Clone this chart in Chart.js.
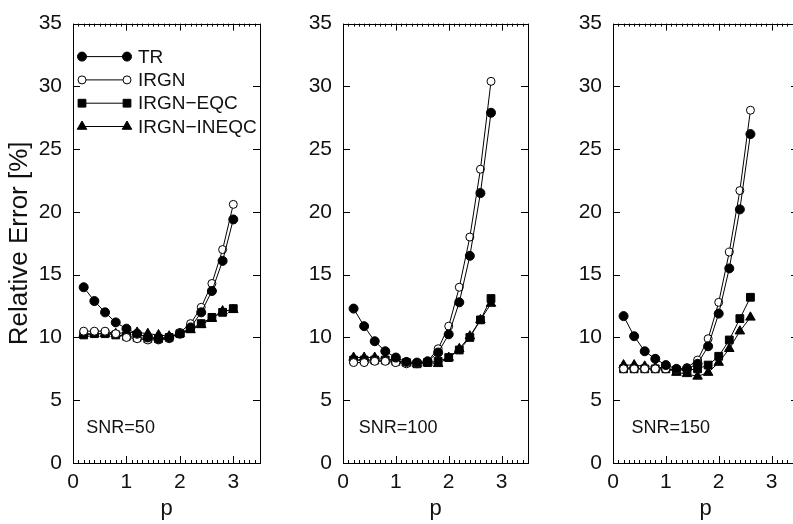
<!DOCTYPE html>
<html>
<head>
<meta charset="utf-8">
<script src="https://cdn.jsdelivr.net/npm/chart.js@4.4.1/dist/chart.umd.min.js"></script>
<style>
  body { margin: 0; width: 793px; height: 524px; overflow: hidden; position: relative; background: #fff; }
  canvas { position: absolute; top: 0; }
</style>
</head>
<body>
<canvas id="c1" width="270" height="524" style="left:0px"></canvas>
<canvas id="c2" width="270" height="524" style="left:270px"></canvas>
<canvas id="c3" width="270" height="524" style="left:540px"></canvas>
<script>
// eixos
const xTicks = [0, 1, 2, 3];
const yTicks = [0, 5, 10, 15, 20, 25, 30, 35];
const nomes = ['TR', 'IRGN', 'IRGN\u2212EQC', 'IRGN\u2212INEQC'];

// SNR=50
const p50 = [0.2, 0.4, 0.6, 0.8, 1.0, 1.2, 1.4, 1.6, 1.8, 2.0, 2.2, 2.4, 2.6, 2.8, 3.0];
const tr50 = [14.0, 12.9, 12.0, 11.2, 10.7, 10.3, 10.0, 9.9, 10.0, 10.3, 10.8, 12.0, 13.7, 16.1, 19.4];
const irgn50 = [10.5, 10.5, 10.5, 10.3, 10.0, 9.9, 9.8, 9.8, 9.9, 10.4, 11.1, 12.4, 14.3, 17.0, 20.6];
const eqc50 = [10.2, 10.3, 10.3, 10.2, 10.1, 10.0, 9.9, 9.9, 10.0, 10.3, 10.7, 11.1, 11.6, 12.0, 12.3];
const ineqc50 = [10.3, 10.3, 10.3, 10.3, 10.4, 10.4, 10.3, 10.2, 10.1, 10.3, 10.6, 11.0, 11.5, 12.1, 12.2];

// SNR=100
const p100 = [0.2, 0.4, 0.6, 0.8, 1.0, 1.2, 1.4, 1.6, 1.8, 2.0, 2.2, 2.4, 2.6, 2.8];
const tr100 = [12.3, 10.9, 9.7, 8.9, 8.4, 8.05, 8.0, 8.1, 8.8, 10.25, 12.8, 16.5, 21.5, 27.9];
const irgn100 = [8.0, 8.0, 8.1, 8.1, 8.0, 7.9, 7.9, 8.1, 9.1, 10.9, 14.0, 18.0, 23.4, 30.4];
const eqc100 = [8.2, 8.2, 8.2, 8.2, 8.1, 8.0, 7.9, 8.0, 8.1, 8.4, 9.0, 10.0, 11.4, 13.1];
const ineqc100 = [8.4, 8.4, 8.4, 8.3, 8.2, 8.0, 7.9, 8.0, 7.9, 8.4, 9.1, 10.1, 11.4, 12.7];

// SNR=150
const p150 = [0.2, 0.4, 0.6, 0.8, 1.0, 1.2, 1.4, 1.6, 1.8, 2.0, 2.2, 2.4, 2.6];
const tr150 = [11.7, 10.1, 8.9, 8.3, 7.8, 7.5, 7.5, 7.9, 9.3, 11.9, 15.5, 20.2, 26.2];
const irgn150 = [7.5, 7.5, 7.5, 7.5, 7.5, 7.4, 7.6, 8.2, 9.9, 12.8, 16.8, 21.7, 28.1];
const eqc150 = [7.5, 7.5, 7.5, 7.5, 7.5, 7.4, 7.4, 7.5, 7.8, 8.5, 9.8, 11.5, 13.2];
const ineqc150 = [7.8, 7.8, 7.7, 7.6, 7.6, 7.2, 7.1, 6.9, 7.2, 8.0, 9.1, 10.5, 11.6];

const fonte = "'Liberation Sans', Arial, Helvetica, sans-serif";
const tinta = '#111';

// estilo de cada série (marcador)
const estilos = [
  { pointStyle: 'circle', pointRadius: 4.5, pointBackgroundColor: '#000' },
  { pointStyle: 'circle', pointRadius: 4, pointBackgroundColor: '#fff' },
  { pointStyle: 'rect', pointRadius: 5.5, pointBackgroundColor: '#000' },
  { pointStyle: 'triangle', pointRadius: 5.5, pointBackgroundColor: '#000' }
];

// moldura com ticks para dentro + rótulo SNR
const moldura = {
  id: 'moldura',
  beforeDatasetsDraw(chart, args, opts) {
    const { ctx, chartArea: a, scales: { x, y } } = chart;
    ctx.save();
    ctx.strokeStyle = '#000';
    ctx.lineWidth = 1;
    ctx.strokeRect(Math.round(a.left) + 0.5, Math.round(a.top) + 0.5,
      Math.round(a.right - a.left), Math.round(a.bottom - a.top));
    ctx.beginPath();
    for (let i = 0; i <= 35; i++) {
      const px = Math.round(x.getPixelForValue(i / 10)) + 0.5;
      const len = i % 10 === 0 ? 7 : 3;
      ctx.moveTo(px, a.bottom); ctx.lineTo(px, a.bottom - len);
      ctx.moveTo(px, a.top); ctx.lineTo(px, a.top + len);
    }
    yTicks.forEach(v => {
      const py = Math.round(y.getPixelForValue(v)) + 0.5;
      ctx.moveTo(a.left, py); ctx.lineTo(a.left + 7, py);
      ctx.moveTo(a.right, py); ctx.lineTo(a.right - 7, py);
    });
    ctx.stroke();
    ctx.fillStyle = tinta;
    ctx.font = '18px ' + fonte;
    ctx.textBaseline = 'alphabetic';
    ctx.fillText(opts.snr, x.getPixelForValue(opts.snrX), y.getPixelForValue(2.35));
    ctx.restore();
  }
};

// legenda no estilo gnuplot (linha com marcador nas duas pontas)
const legenda = {
  id: 'legenda',
  afterDatasetsDraw(chart, args, opts) {
    if (!opts.show) return;
    const { ctx, chartArea: a } = chart;
    ctx.save();
    nomes.forEach((nome, i) => {
      const yy = a.top + 33 + i * 23.3;
      const x1 = a.left + 9, x2 = a.left + 54;
      ctx.strokeStyle = '#000';
      ctx.lineWidth = 1;
      ctx.beginPath(); ctx.moveTo(x1, yy); ctx.lineTo(x2, yy); ctx.stroke();
      const e = estilos[i];
      ctx.fillStyle = e.pointBackgroundColor;
      [x1, x2].forEach(xx => {
        Chart.helpers.drawPoint(ctx, { pointStyle: e.pointStyle, radius: e.pointRadius, borderWidth: 1, rotation: 0 }, xx, yy);
      });
      ctx.fillStyle = tinta;
      ctx.font = '19px ' + fonte;
      ctx.textBaseline = 'middle';
      ctx.fillText(nome, a.left + 65, yy + 1);
    });
    ctx.restore();
  }
};

function criarPainel(id, pVals, series, snr, snrX, primeiro) {
  const ctx = document.getElementById(id).getContext('2d');
  return new Chart(ctx, {
    type: 'line',
    data: {
      datasets: series.map((s, i) => Object.assign({
        label: nomes[i],
        data: pVals.map((p, k) => ({ x: p, y: s[k] })),
        borderColor: '#000',
        borderWidth: 1,
        pointBorderColor: '#000',
        pointBorderWidth: 1,
        tension: 0,
        clip: false
      }, estilos[i]))
    },
    options: {
      responsive: false,
      animation: false,
      events: [],
      layout: { padding: { top: 15, right: primeiro ? 10 : 12, left: 0, bottom: 0 } },
      plugins: {
        legend: { display: false },
        tooltip: { enabled: false },
        moldura: { snr: snr, snrX: snrX },
        legenda: { show: primeiro }
      },
      scales: {
        x: {
          type: 'linear',
          min: 0,
          max: 3.5,
          afterBuildTicks: s => { s.ticks = xTicks.map(v => ({ value: v })); },
          afterFit: s => { s.height = 61; },
          grid: { display: false, drawTicks: false },
          border: { display: false },
          ticks: { color: tinta, padding: 7, font: { family: fonte, size: 21 }, maxRotation: 0 },
          title: { display: true, text: 'p', color: tinta, font: { family: fonte, size: 22 }, padding: { top: 0, bottom: 2 } }
        },
        y: {
          min: 0,
          max: 35,
          afterBuildTicks: s => { s.ticks = yTicks.map(v => ({ value: v })); },
          afterFit: s => { s.width = 73; },
          grid: { display: false, drawTicks: false },
          border: { display: false },
          ticks: { color: tinta, padding: 11, font: { family: fonte, size: 21 } },
          title: { display: primeiro, text: 'Relative Error [%]', color: tinta, font: { family: fonte, size: 26 }, padding: { top: 4, bottom: 0 } }
        }
      }
    },
    plugins: [moldura, legenda]
  });
}

criarPainel('c1', p50, [tr50, irgn50, eqc50, ineqc50], 'SNR=50', 0.25, true);
criarPainel('c2', p100, [tr100, irgn100, eqc100, ineqc100], 'SNR=100', 0.3, false);
criarPainel('c3', p150, [tr150, irgn150, eqc150, ineqc150], 'SNR=150', 0.35, false);
</script>
</body>
</html>
